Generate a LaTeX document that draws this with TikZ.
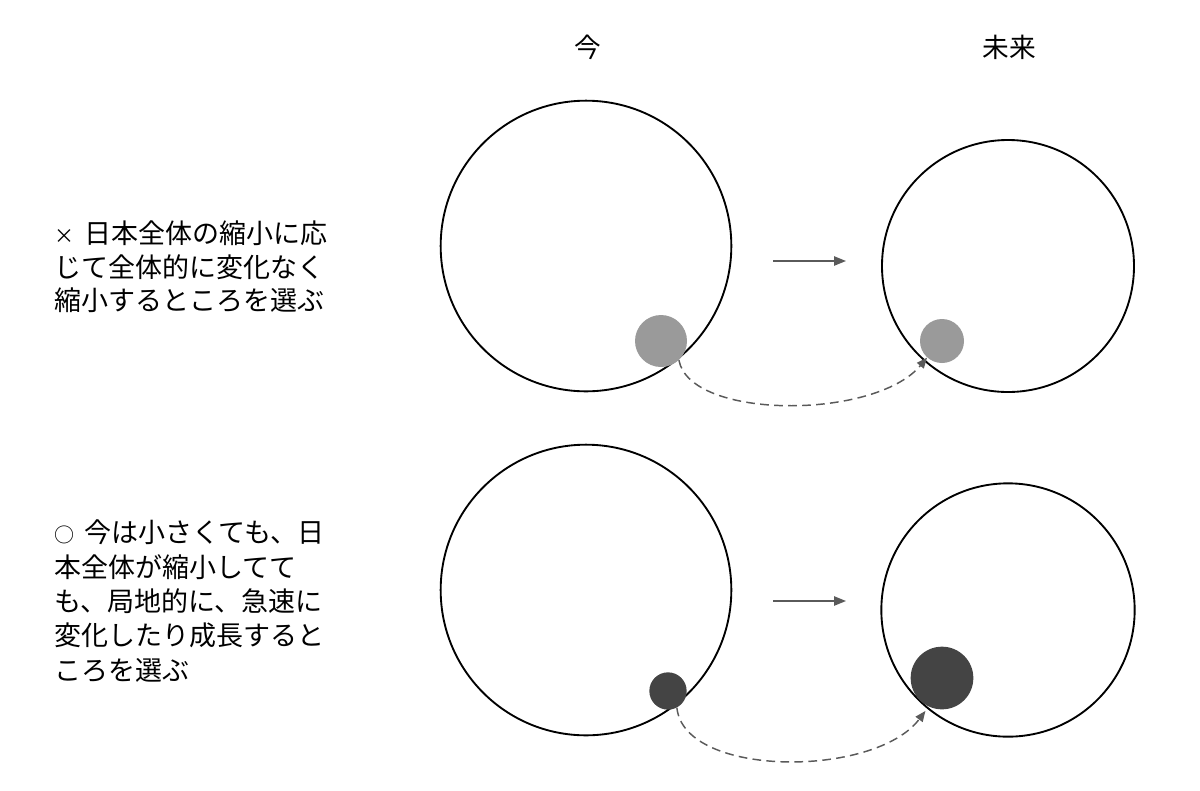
\documentclass[tikz,border=0pt]{standalone}
\usepackage{fontspec}
\setmainfont{Noto Sans CJK JP}
\usetikzlibrary{arrows.meta}
\definecolor{lightdot}{HTML}{9A9A9A}
\definecolor{darkdot}{HTML}{444444}
\definecolor{linkgray}{HTML}{5A5A5A}
\newcommand{\smallmark}[1]{{\fontsize{15pt}{15pt}\selectfont #1}}
\begin{document}
\begin{tikzpicture}[x=0.75pt,y=-0.75pt,
  ring/.style={circle,draw=black,line width=1.4pt,inner sep=0pt},
  dot/.style={circle,inner sep=0pt,draw=none},
  head/.style={font=\fontsize{20pt}{24pt}\selectfont,inner sep=0pt},
  desc/.style={anchor=west,align=left,inner sep=0pt},
  flow/.style={draw=linkgray,line width=1.1pt,-{Triangle[length=9pt,width=7pt]}},
  move/.style={draw=linkgray,line width=1.1pt,dash pattern=on 6.5pt off 4pt,-{Triangle[length=8pt,width=6.5pt]}}
]
\useasboundingbox (0,0) rectangle (1200,790);
\fill[white] (0,0) rectangle (1200,790);

% headers
\node[head] (now) at (588,47) {今};
\node[head] (future) at (1009,47) {未来};

% top row
\node[ring,minimum size=218pt] (c1) at (586,246) {};
\node[ring,minimum size=189pt] (c2) at (1008,266) {};
\node[dot,fill=lightdot,minimum size=39pt] (g1) at (661,341) {};
\node[dot,fill=lightdot,minimum size=33pt] (g2) at (942,341) {};
\coordinate (a1s) at (773,261);
\coordinate (a1e) at (846,261);
\draw[flow] (a1s) -- (a1e);
\draw[move] (g1.-47) .. controls (690,420) and (875,420) .. (g2.228);

% bottom row
\node[ring,minimum size=218pt] (c3) at (586,590) {};
\node[ring,minimum size=190pt] (c4) at (1008,610) {};
\node[dot,fill=darkdot,minimum size=28pt] (d1) at (668,691) {};
\node[dot,fill=darkdot,minimum size=47pt] (d2) at (942,678) {};
\coordinate (a2s) at (773,601);
\coordinate (a2e) at (846,601);
\draw[flow] (a2s) -- (a2e);
\draw[move,shorten >=4pt] (d1.-62) .. controls (684,778) and (875,778) .. (d2.245);

% descriptions
\node[desc,font=\fontsize{20.25pt}{25pt}\selectfont] (t1) at (54,267)
  {\smallmark{×}\hspace{3pt} 日本全体の縮小に応\\じて全体的に変化なく\\縮小するところを選ぶ};
\node[desc,font=\fontsize{20.25pt}{25.8pt}\selectfont] (t2) at (54,601)
  {\smallmark{○}\hspace{3pt} 今は小さくても、日\\本全体が縮小してて\\も、局地的に、急速に\\変化したり成長すると\\ころを選ぶ};
\end{tikzpicture}
\end{document}
